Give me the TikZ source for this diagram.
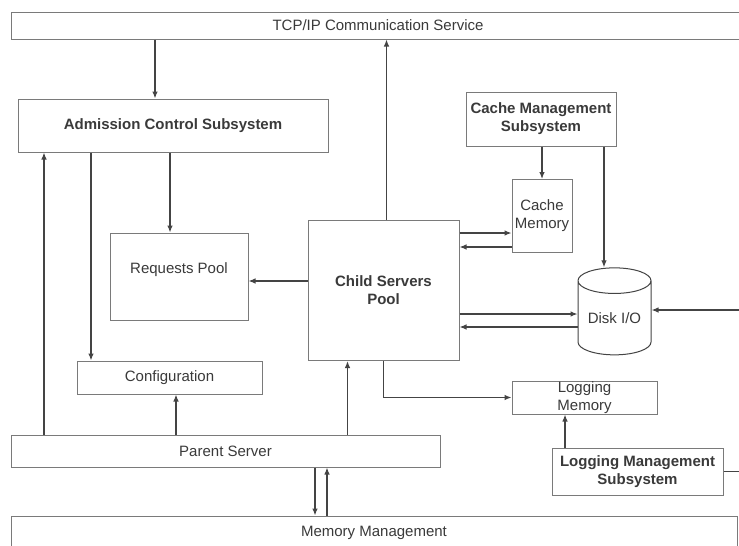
\documentclass[tikz,border=0pt]{standalone}
\usepackage{fontspec}
\setmainfont{Liberation Sans}
\usepackage{xcolor}
\definecolor{lineGray}{HTML}{444444}
\definecolor{boxGray}{HTML}{7A7A7A}
\definecolor{textGray}{HTML}{3A3A3A}
\usepackage{tikz}
\usetikzlibrary{shapes,arrows,positioning,calc,arrows.meta,shapes.misc}
\tikzset{%
  plainBox/.style={%
    rectangle,
    draw=boxGray,
    line width=1pt,
    text=textGray,
    font=\fontsize{15}{18}\selectfont,
    inner sep=0pt,
    align=center
  },
  boldBox/.style={%
    plainBox,
    font=\fontsize{15}{18}\selectfont\bfseries
  },
  diskStore/.style={%
    cylinder,
    shape border rotate=90,
    draw=lineGray,
    line width=1pt,
    text=textGray,
    font=\fontsize{15}{18}\selectfont,
    aspect=0.48,
    minimum height=87pt,
    minimum width=73pt,
    inner sep=0pt,
    align=center
  },
  arrowLine/.style={%
    -{Latex[length=7pt,width=5.5pt]},
    line width=1.2pt,
    color=lineGray
  },
  plainLine/.style={%
    line width=1.2pt,
    color=lineGray
  }
}

\begin{document}
\begin{tikzpicture}[x=1pt,y=-1pt]
            \clip (0,0) rectangle (739,546);
            \fill[white] (0,0) rectangle (739,546);

            \node[plainBox, minimum width=734pt, minimum height=27pt] (tcp) at (378,25.5) {TCP/IP Communication Service};
            \node[boldBox, minimum width=310pt, minimum height=53pt] (adm) at (173,125.5) {Admission Control Subsystem};
            \node[boldBox, minimum width=150pt, minimum height=54pt] (cacheMgmt) at (541,119) {Cache Management\\Subsystem};
            \node[plainBox, minimum width=60pt, minimum height=73pt] (cacheMem) at (542,216) {Cache\\Memory};
            \node[boldBox, minimum width=151pt, minimum height=140pt] (childPool) at (383.5,290.5) {Child Servers\\Pool};
            \node[plainBox, minimum width=138pt, minimum height=87pt, text height=11pt, text depth=17pt] (reqPool) at (179,276.5) {Requests Pool};
            \node[diskStore] (disk) at (614.5,318) {Disk I/O};
            \node[plainBox, minimum width=185pt, minimum height=33pt] (config) at (169.5,377.5) {Configuration};
            \node[plainBox, minimum width=145pt, minimum height=33pt] (logMem) at (584.5,397.5) {Logging\\Memory};
            \node[plainBox, minimum width=429pt, minimum height=32pt] (parent) at (225.5,451) {Parent Server};
            \node[boldBox, minimum width=171pt, minimum height=47pt] (logMgmt) at (637.5,471.5) {Logging Management\\Subsystem};
            \node[plainBox, minimum width=726pt, minimum height=34pt] (memMgmt) at (374,533) {Memory Management};

            \coordinate (diskFeed) at (745,310);
            \coordinate (logFeed) at (745,471.5);

            % TCP/IP service
            \draw[arrowLine] ([xshift=-18pt]adm.north |- tcp.south) -- ([xshift=-18pt]adm.north);
            \draw[arrowLine] ([xshift=3pt]childPool.north) -- ([xshift=3pt]childPool.north |- tcp.south);

            % cache management
            \draw[arrowLine] (cacheMem.north |- cacheMgmt.south) -- (cacheMem.north);
            \draw[arrowLine] ([xshift=63pt]cacheMgmt.south) -- ([xshift=63pt]cacheMgmt.south |- disk.north);

            % child servers pool
            \draw[arrowLine] ([yshift=-17pt]cacheMem.west -| childPool.east) -- ([yshift=-17pt]cacheMem.west);
            \draw[arrowLine] ([yshift=-31pt]cacheMem.west) -- ([yshift=-31pt]cacheMem.west -| childPool.east);
            \draw[arrowLine] ([yshift=4pt]disk.west -| childPool.east) -- ([yshift=4pt]disk.west);
            \draw[arrowLine] ([yshift=-9pt]disk.west) -- ([yshift=-9pt]disk.west -| childPool.east);
            \draw[arrowLine] (diskFeed) -- (diskFeed -| disk.east);
            \draw[arrowLine] ([yshift=9.5pt]childPool.west) -- ([yshift=9.5pt]childPool.west -| reqPool.east);
            \draw[arrowLine] (childPool.south) |- (logMem.west);

            % admission control
            \draw[arrowLine] ([xshift=-9pt]reqPool.north |- adm.south) -- ([xshift=-9pt]reqPool.north);
            \draw[arrowLine] ([xshift=-78.5pt]config.north |- adm.south) -- ([xshift=-78.5pt]config.north);

            % parent server
            \draw[arrowLine] ([xshift=-129pt]adm.south |- parent.north) -- ([xshift=-129pt]adm.south);
            \draw[arrowLine] ([xshift=6.5pt]config.south |- parent.north) -- ([xshift=6.5pt]config.south);
            \draw[arrowLine] ([xshift=-36pt]childPool.south |- parent.north) -- ([xshift=-36pt]childPool.south);
            \draw[arrowLine] ([xshift=89.5pt]parent.south) -- ([xshift=89.5pt]parent.south |- memMgmt.north);
            \draw[arrowLine] ([xshift=101.5pt]parent.south |- memMgmt.north) -- ([xshift=101.5pt]parent.south);

            % logging management
            \draw[arrowLine] ([xshift=-19.5pt]logMem.south |- logMgmt.north) -- ([xshift=-19.5pt]logMem.south);
            \draw[plainLine] (logMgmt.east) -- (logFeed);
        \end{tikzpicture}
\end{document}
